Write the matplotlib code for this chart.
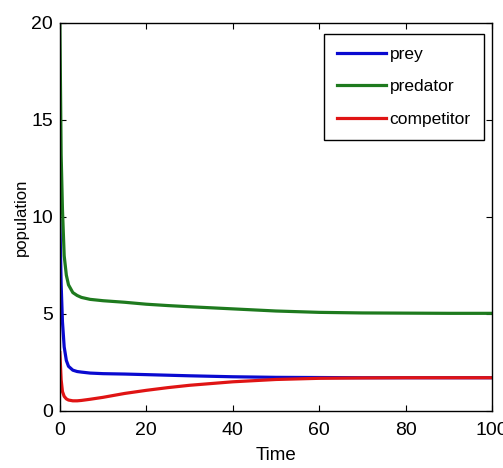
import matplotlib
matplotlib.use('Agg')
import matplotlib.pyplot as plt

# tempo e populações
tempo = [0, 0.3, 0.6, 1, 1.5, 2, 3, 4, 5, 7, 10, 15, 20, 25, 30, 40, 50, 60, 70, 80, 90, 100]
presa = [9.8, 6.5, 4.6, 3.3, 2.6, 2.3, 2.1, 2.03, 2.0, 1.95, 1.92, 1.9, 1.87, 1.84, 1.81,
         1.76, 1.73, 1.72, 1.71, 1.71, 1.71, 1.71]
predador = [20, 13.2, 10.4, 8.0, 7.0, 6.5, 6.1, 5.95, 5.85, 5.75, 5.68, 5.6, 5.5, 5.43, 5.37,
            5.26, 5.15, 5.08, 5.05, 5.04, 5.03, 5.03]
competidor = [3.0, 1.6, 1.0, 0.75, 0.62, 0.56, 0.52, 0.52, 0.54, 0.6, 0.7, 0.9, 1.06, 1.2, 1.32,
              1.5, 1.62, 1.68, 1.7, 1.71, 1.71, 1.71]

plt.rcParams['font.family'] = ['Liberation Sans', 'DejaVu Sans']

fig = plt.figure(figsize=(5.03, 4.68), dpi=100)
ax = fig.add_axes([0.119, 0.122, 0.859, 0.829])

ax.plot(tempo, presa, color='#0a0ad0', linewidth=2.3, label='prey')
ax.plot(tempo, predador, color='#1e7a1e', linewidth=2.3, label='predator')
ax.plot(tempo, competidor, color='#e01414', linewidth=2.3, label='competitor')

ax.set_xlim(0, 100)
ax.set_ylim(0, 20)
ax.set_xticks([0, 20, 40, 60, 80, 100])
ax.set_yticks([0, 5, 10, 15, 20])
ax.tick_params(direction='in', top=True, right=True, length=4, labelsize=14)
ax.tick_params(axis='x', pad=8)
ax.tick_params(axis='y', pad=5)
for s in ax.spines.values():
    s.set_linewidth(1.0)

ax.set_xlabel('Time', fontsize=13.5, labelpad=6)
ax.set_ylabel('population', fontsize=12, labelpad=1.5)

leg = ax.legend(loc='upper right', bbox_to_anchor=(0.981, 0.972), borderaxespad=0,
                fontsize=12.5, fancybox=False, framealpha=1, edgecolor='black',
                handlelength=2.8, handletextpad=0.22, labelspacing=1.0, borderpad=0.75)
leg.get_frame().set_linewidth(1.0)

fig.savefig('out.png', dpi=100)
